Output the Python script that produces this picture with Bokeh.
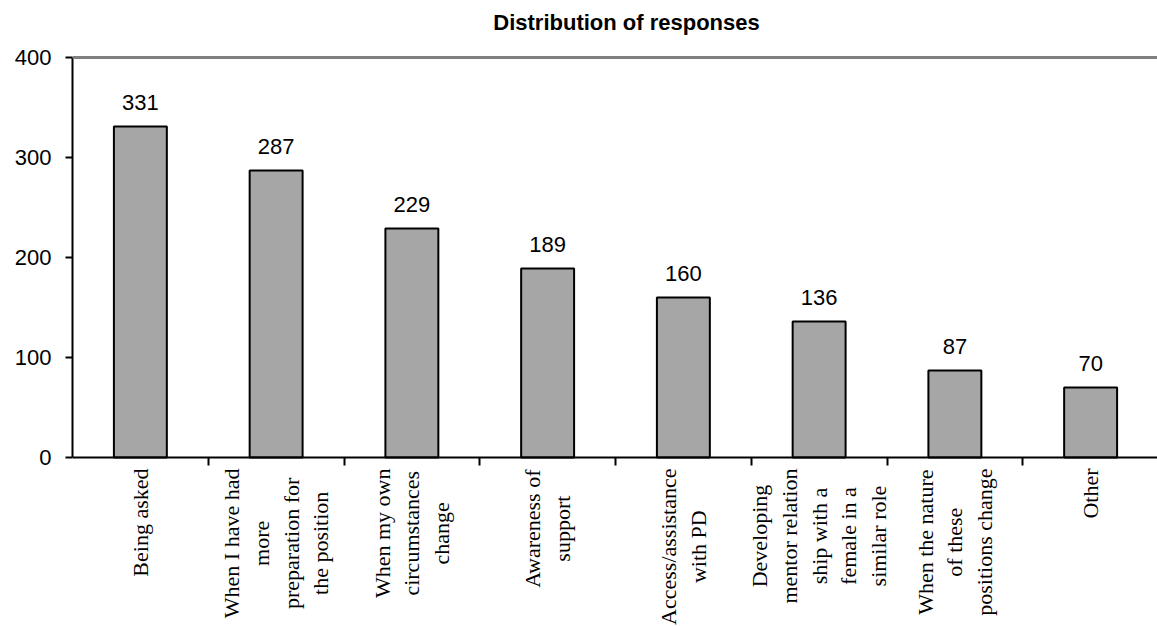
import math
from bokeh.plotting import figure
from bokeh.models import Range1d, FixedTicker, Span, ColumnDataSource
from bokeh.core.properties import value
from bokeh.embed import file_html
from bokeh.resources import INLINE

title_text = "Distribution of responses"
categories = [
    "Being asked",
    "When I have had\nmore\npreparation for\nthe position",
    "When my own\ncircumstances\nchange",
    "Awareness of\nsupport",
    "Access/assistance\nwith PD",
    "Developing\nmentor relation\nship with a\nfemale in a\nsimilar role",
    "When the nature\nof these\npositions change",
    "Other",
]
values = [331, 287, 229, 189, 160, 136, 87, 70]
y_ticks = [0, 100, 200, 300, 400]
y_max = 400

# Times / Liberation Serif advance widths (per 1000 em) used to centre label blocks
TIMES_W = {
    " ": 250, "/": 278,
    "a": 444, "b": 500, "c": 444, "d": 500, "e": 444, "f": 333, "g": 500, "h": 500,
    "i": 278, "j": 278, "k": 500, "l": 278, "m": 778, "n": 500, "o": 500, "p": 500,
    "q": 500, "r": 333, "s": 389, "t": 278, "u": 500, "v": 500, "w": 722, "x": 500,
    "y": 500, "z": 444,
    "A": 722, "B": 667, "C": 667, "D": 722, "E": 611, "F": 556, "G": 722, "H": 722,
    "I": 333, "J": 389, "K": 722, "L": 611, "M": 889, "N": 722, "O": 722, "P": 556,
    "Q": 722, "R": 667, "S": 556, "T": 611, "U": 722, "V": 722, "W": 944, "X": 722,
    "Y": 722, "Z": 611,
}
LABEL_PX = 22


def text_len(s):
    return sum(TIMES_W.get(ch, 500) for ch in s) / 1000.0 * LABEL_PX


n = len(categories)
centers = list(range(n))
bounds = [i + 0.5 for i in range(n - 1)]

W, H = 1157, 626
left_border = 72
top_px = 57           # pixel row of the value 400
px_per_unit = 1.0     # 400 units -> 400 px
cat_px = 135.75
frame_w = W - left_border
x_start = -0.5
x_end = x_start + frame_w / cat_px
y_top = y_max + top_px / px_per_unit
y_bottom = -(H - top_px - y_max * px_per_unit) / px_per_unit

p = figure(width=W, height=H, output_backend="svg", toolbar_location=None,
           x_range=Range1d(x_start, x_end), y_range=Range1d(y_bottom, y_top),
           min_border_left=left_border, min_border_right=0,
           min_border_top=0, min_border_bottom=0)

p.grid.visible = False
p.outline_line_color = None
p.background_fill_color = "white"
p.border_fill_color = "white"

# plot-area top border
p.add_layout(Span(location=y_max, dimension="width", line_color="#808080", line_width=3))

p.vbar(x=centers, top=values, width=0.39, fill_color="#a6a6a6",
       line_color="black", line_width=2)

p.text(x=centers, y=values, text=[str(v) for v in values],
       text_align="center", text_baseline="alphabetic", y_offset=-24,
       text_font=value("Liberation Sans"), text_font_size="22px", text_color="black")

# title
p.text(x=[(x_start + x_end) / 2], y=[y_max], text=[title_text],
       x_offset=11.5, y_offset=-35, text_align="center", text_baseline="alphabetic",
       text_font=value("Liberation Sans"), text_font_style="bold",
       text_font_size="22px", text_color="black")

# category labels, rotated, lines centred
label_src = ColumnDataSource(dict(
    x=centers, y=[0] * n, text=categories,
    yoff=[11 + max(text_len(line) for line in cat.split("\n")) / 2.0 for cat in categories],
))
p.text(x="x", y="y", text="text", y_offset="yoff", source=label_src,
       angle=math.pi / 2, text_align="center", text_baseline="middle",
       text_font=value("Liberation Serif"), text_font_size=f"{LABEL_PX}px",
       text_line_height=1.19, text_color="black")

ya = p.yaxis[0]
ya.ticker = FixedTicker(ticks=y_ticks)
ya.bounds = (0, y_max)
ya.major_tick_out = 7
ya.major_tick_in = 0
ya.minor_tick_out = 0
ya.minor_tick_in = 0
ya.major_tick_line_width = 2
ya.major_tick_line_color = "black"
ya.axis_line_width = 2
ya.axis_line_color = "black"
ya.major_label_text_font = "Liberation Sans"
ya.major_label_text_font_size = "22px"
ya.major_label_text_color = "black"
ya.major_label_standoff = 14

xa = p.xaxis[0]
xa.fixed_location = 0
xa.ticker = FixedTicker(ticks=[], minor_ticks=bounds)
xa.major_tick_out = 0
xa.major_tick_in = 0
xa.minor_tick_out = 8
xa.minor_tick_in = 0
xa.minor_tick_line_width = 2
xa.minor_tick_line_color = "black"
xa.axis_line_width = 2
xa.axis_line_color = "black"

open("out.html", "w").write(file_html(p, INLINE))
